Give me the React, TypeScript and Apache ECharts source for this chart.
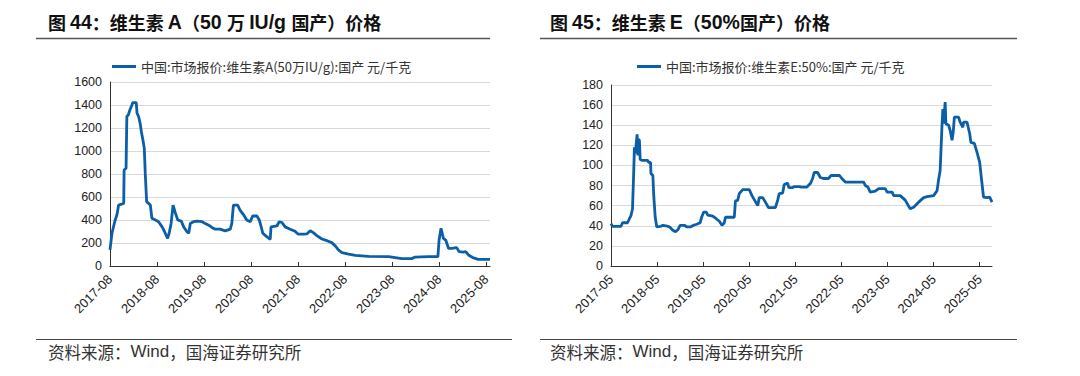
import React, { useEffect, useRef } from 'react';
import * as echarts from 'echarts';

// Vitamin A (50万IU/g, domestic) — months after 2017-08, price 元/千克
const vaMonths = [0, 0.5, 1.2, 1.8, 2.2, 3.5, 3.6, 4.1, 4.3, 4.7, 5.0, 5.6, 5.8, 6.7, 6.9, 7.3, 7.7, 8.0, 8.4, 8.75, 9.0, 9.35, 10.3, 10.7, 11.6, 12.4, 13.3, 13.9, 14.7, 15.1, 15.6, 16.1, 16.7, 17.3, 18.2, 18.8, 19.6, 20.1, 20.5, 21.3, 22.2, 23.5, 24.3, 25.2, 26.0, 26.9, 28.1, 29.4, 30.7, 31.1, 31.5, 32.6, 33.2, 34.1, 34.9, 35.8, 36.4, 37.5, 38.1, 38.6, 39.0, 40.0, 40.9, 41.1, 42.6, 43.2, 43.9, 44.7, 46.0, 47.1, 48.0, 49.4, 50.3, 51.1, 51.9, 52.8, 54.1, 55.4, 56.6, 57.5, 58.3, 59.2, 60.9, 62.6, 66.0, 71.1, 72.8, 74.5, 77.0, 77.9, 81.3, 83.7, 84.0, 84.5, 85.1, 85.7, 86.4, 87.2, 88.5, 89.1, 90.2, 90.8, 91.5, 92.8, 94.0, 97.0];
const vaPrices = [140, 285, 385, 450, 530, 545, 835, 850, 1300, 1315, 1350, 1400, 1420, 1420, 1330, 1300, 1240, 1170, 1095, 1025, 805, 560, 530, 415, 400, 385, 340, 300, 240, 285, 370, 530, 460, 400, 390, 340, 300, 285, 370, 385, 390, 385, 370, 355, 335, 320, 320, 305, 320, 370, 530, 530, 485, 445, 400, 385, 435, 435, 400, 340, 285, 255, 232, 340, 348, 385, 378, 340, 320, 305, 278, 278, 280, 307, 290, 264, 235, 220, 203, 175, 140, 116, 104, 93, 84, 81, 73, 64, 64, 78, 81, 81, 226, 328, 241, 226, 154, 154, 160, 125, 120, 125, 96, 70, 58, 58];

// Vitamin E (50%, domestic) — months after 2017-05, price 元/千克
const veMonths = [0, 0.4, 2.6, 3.0, 4.3, 4.8, 5.2, 5.6, 5.9, 6.1, 6.3, 6.5, 6.8, 7.0, 7.1, 7.4, 7.6, 8.2, 9.6, 9.8, 10.3, 10.4, 10.9, 11.1, 11.5, 11.9, 13.0, 13.5, 14.3, 15.2, 16.1, 16.8, 17.4, 18.0, 19.1, 19.7, 20.8, 21.5, 22.3, 23.2, 23.6, 24.1, 24.8, 25.2, 26.5, 27.4, 28.2, 28.9, 29.5, 29.8, 32.1, 32.4, 33.0, 33.4, 34.3, 36.0, 36.7, 37.3, 38.2, 38.6, 39.5, 40.2, 41.0, 42.8, 43.4, 43.8, 44.7, 45.1, 46.0, 46.3, 47.3, 47.8, 49.1, 49.5, 51.0, 51.9, 52.5, 52.9, 53.8, 54.5, 55.3, 56.6, 57.3, 59.5, 60.1, 61.0, 65.8, 66.2, 66.9, 67.5, 68.8, 69.7, 71.4, 71.9, 73.2, 73.6, 75.3, 76.6, 77.9, 78.8, 80.1, 81.4, 82.3, 84.0, 84.9, 85.3, 85.7, 86.2, 86.4, 86.6, 87.0, 87.2, 87.9, 88.3, 88.8, 89.1, 89.4, 90.5, 90.9, 91.6, 91.8, 92.7, 93.4, 93.7, 94.6, 95.3, 96.0, 96.4, 97.0, 97.9, 98.6, 99.2];
const vePrices = [42, 39.5, 39.5, 43, 43, 47, 50, 57, 92, 118, 112, 119, 131, 110, 126, 125, 106, 105, 105, 103, 103, 92, 90, 72, 49, 39, 39.5, 40.5, 40, 39, 35.5, 34, 36, 40.5, 40.5, 39, 39, 40.5, 41.5, 43, 48.5, 53.5, 53.5, 50.5, 49.5, 47, 44.5, 40.5, 43, 48.5, 48.5, 64.5, 65.5, 72, 76, 76, 70, 66, 60, 68, 68, 63.5, 58, 58, 65.5, 72, 72.5, 81, 82.5, 78, 78, 79, 79, 78.5, 78.5, 82, 87, 93, 93, 88, 87, 87, 90, 90, 87, 83.5, 83.5, 80, 78.5, 73.5, 74.5, 77, 77, 73.5, 73.5, 70, 70, 65.5, 57, 58.5, 63.5, 68, 69, 70, 75, 86, 95, 141.5, 156, 141.5, 163, 141.5, 140, 135, 125, 133, 148, 148, 143, 138, 143, 143, 131.5, 123, 122, 113, 103, 88.5, 68.5, 68, 68.5, 63.5];

const vaTickLabels = ['2017-08', '2018-08', '2019-08', '2020-08', '2021-08', '2022-08', '2023-08', '2024-08', '2025-08'];
const veTickLabels = ['2017-05', '2018-05', '2019-05', '2020-05', '2021-05', '2022-05', '2023-05', '2024-05', '2025-05'];
const tickMonths = [0, 12, 24, 36, 48, 60, 72, 84, 96];

const vaName = '中国:市场报价:维生素A(50万IU/g):国产 元/千克';
const veName = '中国:市场报价:维生素E:50%:国产 元/千克';

const LINE = '#0b5ea8';
const CJK = '"Noto Sans CJK SC", sans-serif';
const LAT = '"Liberation Sans", Arial, sans-serif';

function xAxisFor(gridIndex: number, max: number, labels: string[]) {
  return {
    type: 'value', gridIndex, min: 0, max,
    axisLine: { show: true, lineStyle: { color: '#333', width: 1 } },
    axisTick: { show: true, inside: true, length: 4, customValues: tickMonths, lineStyle: { color: '#333' } },
    axisLabel: {
      customValues: tickMonths, rotate: 45, margin: 11, fontSize: 13, color: '#222', fontFamily: LAT,
      formatter: (v: number) => labels[Math.round(v / 12)] ?? '',
    },
    splitLine: { show: false },
  };
}

function yAxisFor(gridIndex: number, max: number, interval: number) {
  return {
    type: 'value', gridIndex, min: 0, max, interval,
    axisLine: { show: true, lineStyle: { color: '#333', width: 1 } },
    axisTick: { show: false },
    axisLabel: { fontSize: 12.5, color: '#222', fontFamily: LAT, margin: 8, formatter: (v: number) => String(v) },
    splitLine: { show: true, lineStyle: { color: '#d9d9d9', width: 1 } },
  };
}

const titleRich = {
  c: { fontFamily: CJK, fontSize: 18, fontWeight: 'bold', fill: '#111' },
  b: { fontFamily: LAT, fontSize: 19.5, fontWeight: 'bold', fill: '#111' },
};
const footRich = {
  c: { fontFamily: CJK, fontSize: 16.5, fill: '#333' },
  l: { fontFamily: LAT, fontSize: 17, fill: '#333' },
};
const legendText = { fontFamily: CJK, fontSize: 13, color: '#333' };

export default function App() {
  const ref = useRef<HTMLDivElement>(null);
  useEffect(() => {
    const chart = echarts.init(ref.current!, null, { renderer: 'svg' });
    chart.setOption({
      animation: false,
      backgroundColor: '#fff',
      grid: [
        { left: 110, top: 82, width: 380, height: 184 },
        { left: 611, top: 85, width: 381, height: 181 },
      ],
      xAxis: [xAxisFor(0, 97, vaTickLabels), xAxisFor(1, 99.2, veTickLabels)],
      yAxis: [yAxisFor(0, 1600, 200), yAxisFor(1, 180, 20)],
      legend: [
        { data: [vaName], left: 112, top: 60, icon: 'rect', itemWidth: 24, itemHeight: 3, padding: 0, textStyle: legendText },
        { data: [veName], left: 637, top: 60, icon: 'rect', itemWidth: 24, itemHeight: 3, padding: 0, textStyle: legendText },
      ],
      series: [
        { name: vaName, type: 'line', xAxisIndex: 0, yAxisIndex: 0, showSymbol: false,
          data: vaMonths.map((m, i) => [m, vaPrices[i]]),
          lineStyle: { color: LINE, width: 2.8 }, itemStyle: { color: LINE } },
        { name: veName, type: 'line', xAxisIndex: 1, yAxisIndex: 1, showSymbol: false,
          data: veMonths.map((m, i) => [m, vePrices[i]]),
          lineStyle: { color: LINE, width: 2.8 }, itemStyle: { color: LINE } },
      ],
      graphic: [
        { type: 'text', left: 48, top: 12, style: {
          text: '{c|图 }{b|44}{c|：维生素 }{b|A}{c|（}{b|50 }{c|万 }{b|IU/g }{c|国产）价格}', rich: titleRich } },
        { type: 'text', left: 550, top: 12, style: {
          text: '{c|图 }{b|45}{c|：维生素 }{b|E}{c|（}{b|50%}{c|国产）价格}', rich: titleRich } },
        { type: 'line', shape: { x1: 36, y1: 38.5, x2: 490, y2: 38.5 }, style: { stroke: '#555', lineWidth: 1.5 } },
        { type: 'line', shape: { x1: 540, y1: 38.5, x2: 1017, y2: 38.5 }, style: { stroke: '#555', lineWidth: 1.5 } },
        { type: 'line', shape: { x1: 36, y1: 339.5, x2: 512, y2: 339.5 }, style: { stroke: '#444', lineWidth: 1 } },
        { type: 'line', shape: { x1: 540, y1: 339.5, x2: 1017, y2: 339.5 }, style: { stroke: '#444', lineWidth: 1 } },
        { type: 'text', left: 48, top: 343, style: {
          text: '{c|资料来源：}{l|Wind}{c|，国海证券研究所}', rich: footRich } },
        { type: 'text', left: 550, top: 343, style: {
          text: '{c|资料来源：}{l|Wind}{c|，国海证券研究所}', rich: footRich } },
      ],
    });
    return () => chart.dispose();
  }, []);
  return <div ref={ref} style={{ position: 'absolute', left: 0, top: 0, width: 1080, height: 376 }} />;
}
